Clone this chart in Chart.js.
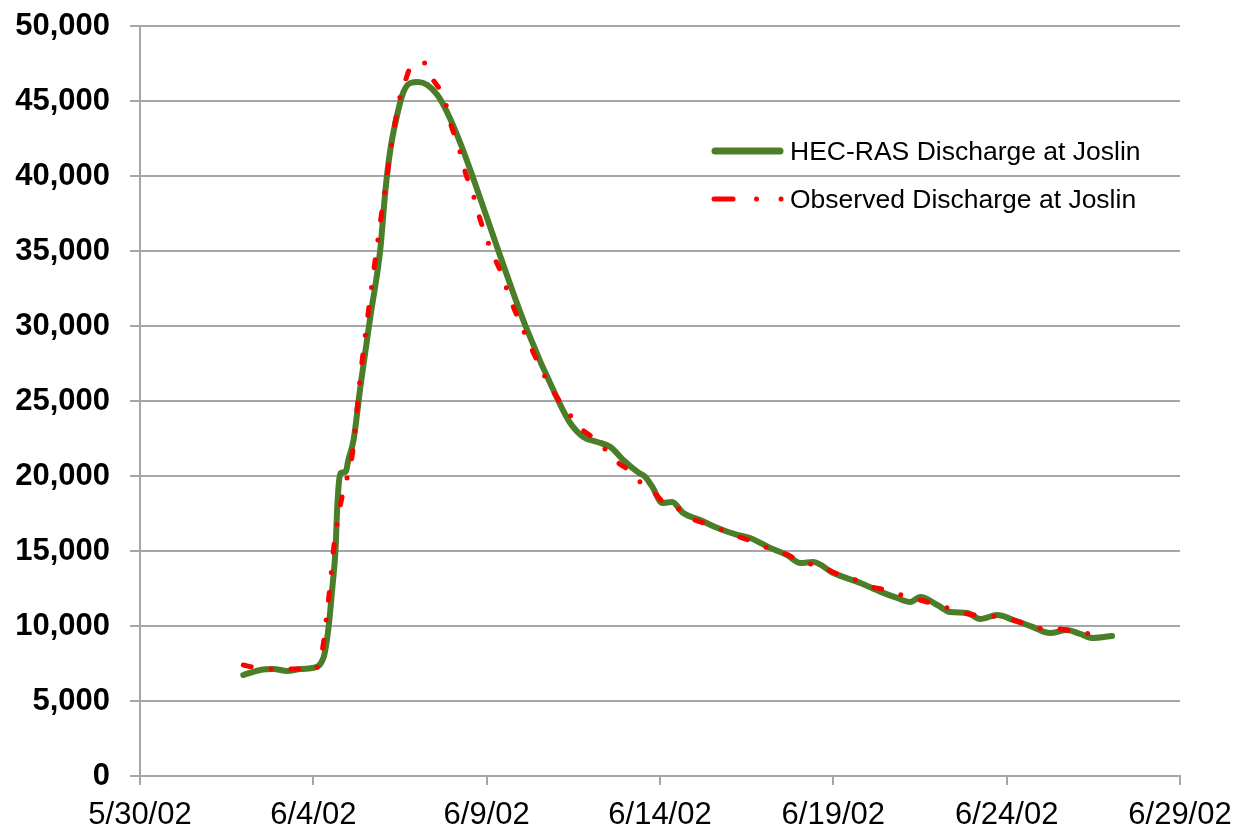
<!DOCTYPE html>
<html>
<head>
<meta charset="utf-8">
<style>
html,body{margin:0;padding:0;background:#ffffff;}
#wrap{width:1236px;height:829px;}
</style>
<script src="https://cdn.jsdelivr.net/npm/chart.js@4.4.1/dist/chart.umd.min.js"></script>
</head>
<body>
<div id="wrap"><canvas id="c" width="1236" height="829"></canvas></div>
<script>
// ---- DATA (x = days after 5/30/02) ----
const seriesNames = ['HEC-RAS Discharge at Joslin', 'Observed Discharge at Joslin'];
const xTickDays = [0, 5, 10, 15, 20, 25, 30];
const yTickValues = [0, 5000, 10000, 15000, 20000, 25000, 30000, 35000, 40000, 45000, 50000];

const hecDays = [2.98, 3.47, 3.85, 4.25, 4.63, 4.97, 5.29, 5.44, 5.55, 5.64, 5.69, 5.78, 5.93, 6.01, 6.16,
  6.36, 6.65, 6.93, 7.08, 7.22, 7.43, 7.60, 7.80, 8.03, 8.29, 8.58, 8.87, 9.24, 9.59,
  10.34, 11.12, 12.07, 12.41, 12.79, 13.19, 13.57, 13.94, 14.35, 14.58, 14.78, 15.07, 15.35, 15.67,
  16.16, 16.59, 17.23, 17.60, 18.18, 18.67, 19.05, 19.42, 20.00, 20.78, 21.35, 21.84, 22.22, 22.51,
  23.00, 23.37, 23.86, 24.24, 24.73, 25.19, 25.76, 26.25, 26.74, 27.12, 27.49, 28.04];
const hecFlow = [6730, 7070, 7130, 7000, 7130, 7200, 7870, 9930, 12600, 15070, 17930, 20200, 20270, 21070, 22400,
  26000, 30700, 35070, 39070, 41730, 44200, 45600, 46200, 46270, 46070, 45400, 44200, 42200, 40000,
  35000, 30000, 25000, 23530, 22600, 22270, 21930, 21070, 20270, 19930, 19270, 18200, 18270, 17530,
  17070, 16600, 16070, 15870, 15200, 14730, 14200, 14270, 13530, 12870, 12290, 11870, 11600, 11930,
  11400, 10930, 10870, 10470, 10730, 10400, 9930, 9530, 9730, 9470, 9200, 9330];

const obsDays = [2.98, 3.39, 3.99, 4.63, 4.97, 5.26, 5.38, 5.49, 5.58, 5.72, 5.89, 5.98, 6.13, 6.36, 6.65,
  6.93, 7.08, 7.22, 7.48, 7.68, 7.80, 7.94, 8.15, 8.29, 8.46, 8.64, 8.81, 8.98, 9.16, 9.39,
  9.59, 9.73, 9.93, 10.19, 10.42, 10.62, 10.83, 11.03, 11.26, 11.49, 11.75, 12.04, 12.33, 12.61,
  13.08, 13.36, 13.77, 14.09, 14.43, 14.78, 15.07, 15.38, 15.82, 16.25, 16.65, 16.97, 17.37, 17.80,
  18.24, 18.70, 19.13, 19.59, 20.05, 20.52, 20.98, 21.38, 21.73, 22.19, 22.71, 23.31, 23.75, 24.35,
  24.87, 25.36, 25.82, 26.51, 27.12, 27.73];
const obsFlow = [7400, 7200, 7130, 7130, 7000, 8400, 10600, 12870, 15070, 17270, 19270, 19930, 21530, 26730, 32070,
  36870, 39270, 41530, 45070, 46530, 47200, 47270, 47600, 47270, 46400, 45800, 44870, 43330, 42200, 40200,
  38930, 37730, 36270, 34730, 33530, 32200, 30930, 29870, 28670, 27530, 26330, 25200, 24330, 23400,
  22530, 21930, 20930, 20400, 19600, 19000, 18330, 18070, 17270, 16870, 16530, 16200, 15870, 15530,
  15070, 14730, 14200, 14070, 13530, 13200, 12670, 12470, 12230, 11930, 11600, 11200, 10870, 10670,
  10600, 10270, 9870, 9800, 9530, 9470];

// ---- STYLE ----
const FONT = '"Liberation Sans", Arial, Helvetica, sans-serif';
const GRID = '#a6a6a6';
const GREEN = '#4a7e29';
const RED = '#ff0000';
const BASE = Date.UTC(2002, 4, 30);

function dateLabel(v) {
  const d = new Date(BASE + Math.round(v) * 86400000);
  const yy = String(d.getUTCFullYear() % 100).padStart(2, '0');
  return (d.getUTCMonth() + 1) + '/' + d.getUTCDate() + '/' + yy;
}

const legendPlugin = {
  id: 'customLegend',
  afterDraw(chart) {
    const ctx = chart.ctx;
    const ds = chart.data.datasets;
    ctx.save();
    ctx.lineCap = 'round';
    ctx.strokeStyle = ds[0].borderColor;
    ctx.lineWidth = ds[0].borderWidth + 1;
    ctx.beginPath(); ctx.moveTo(715, 151); ctx.lineTo(780, 151); ctx.stroke();
    ctx.strokeStyle = ds[1].borderColor;
    ctx.fillStyle = ds[1].borderColor;
    ctx.lineWidth = ds[1].borderWidth;
    ctx.beginPath(); ctx.moveTo(714, 199); ctx.lineTo(733, 199); ctx.stroke();
    [756.5, 781].forEach(x => { ctx.beginPath(); ctx.arc(x, 199, ds[1].borderWidth / 2, 0, Math.PI * 2); ctx.fill(); });
    ctx.fillStyle = '#000';
    ctx.font = '26.5px ' + FONT;
    ctx.textBaseline = 'alphabetic';
    ctx.textAlign = 'left';
    ctx.fillText(seriesNames[0], 790, 159.5);
    ctx.fillText(seriesNames[1], 790, 208);
    ctx.restore();
  }
};

new Chart(document.getElementById('c'), {
  type: 'line',
  data: {
    datasets: [
      {
        label: seriesNames[0],
        data: hecDays.map((d, i) => ({ x: d, y: hecFlow[i] })),
        borderColor: GREEN,
        borderWidth: 6,
        pointRadius: 0,
        fill: false,
        cubicInterpolationMode: 'monotone',
        borderCapStyle: 'round',
        borderJoinStyle: 'round',
        order: 1
      },
      {
        label: seriesNames[1],
        data: obsDays.map((d, i) => ({ x: d, y: obsFlow[i] })),
        borderColor: RED,
        borderWidth: 5,
        borderDash: [8, 20, 0, 20],
        borderCapStyle: 'round',
        pointRadius: 0,
        fill: false,
        cubicInterpolationMode: 'monotone',
        order: 0
      }
    ]
  },
  options: {
    responsive: false,
    animation: false,
    devicePixelRatio: 1,
    layout: { padding: { left: 0, right: 56, top: 26, bottom: 0 } },
    plugins: { legend: { display: false }, tooltip: { enabled: false } },
    scales: {
      x: {
        type: 'linear',
        min: xTickDays[0],
        max: xTickDays[xTickDays.length - 1],
        afterBuildTicks: s => { s.ticks = xTickDays.map(v => ({ value: v })); },
        afterFit: s => { s.height = 53; s.paddingLeft = 0; s.paddingRight = 0; },
        ticks: {
          callback: v => dateLabel(v),
          font: { family: FONT, size: 31 },
          color: '#000',
          padding: 12,
          maxRotation: 0,
          autoSkip: false
        },
        grid: { drawOnChartArea: false, drawTicks: true, tickLength: 9, color: GRID, lineWidth: 2 },
        border: { display: true, color: GRID, width: 2 }
      },
      y: {
        min: yTickValues[0],
        max: yTickValues[yTickValues.length - 1],
        afterBuildTicks: s => { s.ticks = yTickValues.map(v => ({ value: v })); },
        afterFit: s => { s.width = 140; s.paddingTop = 0; s.paddingBottom = 0; },
        ticks: {
          callback: v => v.toLocaleString('en-US'),
          font: { family: FONT, size: 31, weight: 'bold' },
          color: '#000',
          padding: 20
        },
        grid: { color: GRID, lineWidth: 2, tickLength: 10, drawTicks: true },
        border: { display: true, color: GRID, width: 2 }
      }
    }
  },
  plugins: [legendPlugin]
});
</script>
</body>
</html>
